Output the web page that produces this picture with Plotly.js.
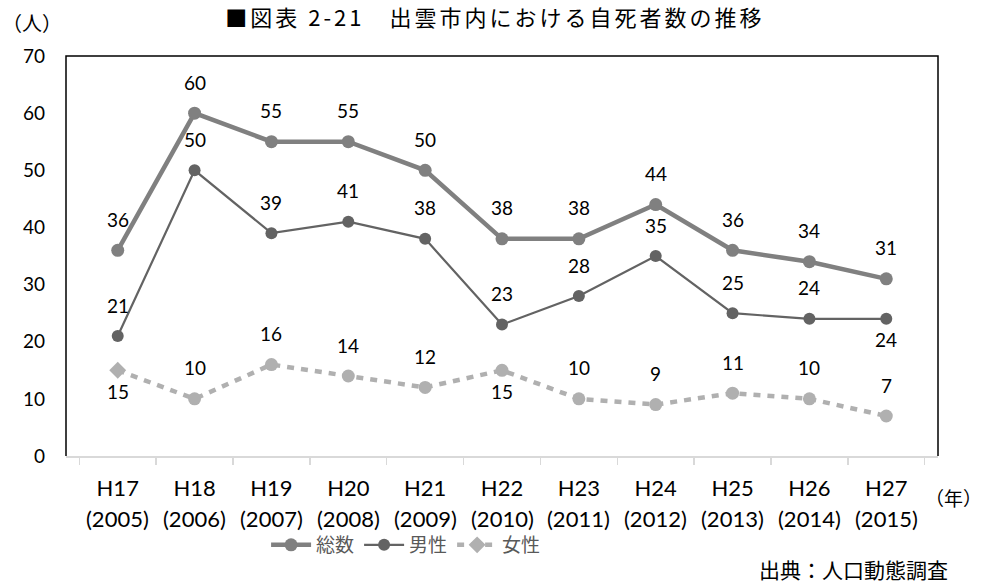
<!DOCTYPE html>
<html>
<head>
<meta charset="utf-8">
<script src="https://cdn.plot.ly/plotly-3.0.1.min.js"></script>
<style>html,body{margin:0;padding:0;background:#fff;}#chart{width:984px;height:583px;}
.gtitle{letter-spacing:3px;}</style>
</head>
<body>
<div id="chart"></div>
<script>
var categories = ["H17", "H18", "H19", "H20", "H21", "H22", "H23", "H24", "H25", "H26", "H27"];
var yearLabels = ["(2005)", "(2006)", "(2007)", "(2008)", "(2009)", "(2010)", "(2011)", "(2012)", "(2013)", "(2014)", "(2015)"];
var totalValues = [36, 60, 55, 55, 50, 38, 38, 44, 36, 34, 31];
var maleValues = [21, 50, 39, 41, 38, 23, 28, 35, 25, 24, 24];
var femaleValues = [15, 10, 16, 14, 12, 15, 10, 9, 11, 10, 7];

// label placement (style): 1 = above, -1 = below
var totalPos = [1,1,1,1,1,1,1,1,1,1,1];
var malePos = [1,1,1,1,1,1,1,1,1,1,-1];
var femalePos = [-1,1,1,1,1,-1,1,1,1,1,1];

var FONT = 'Lato, "Noto Sans", "Noto Sans CJK JP", sans-serif';
var JFONT = '"Noto Sans CJK JP", sans-serif';

var traces = [
  {name: '総数', x: categories, y: totalValues, type: 'scatter', mode: 'lines+markers',
   line: {color: '#808080', width: 4.5}, marker: {color: '#808080', size: 13}},
  {name: '男性', x: categories, y: maleValues, type: 'scatter', mode: 'lines+markers',
   line: {color: '#636363', width: 2.2}, marker: {color: '#636363', size: 12}},
  {name: '女性', x: categories, y: femaleValues, type: 'scatter', mode: 'lines+markers',
   line: {color: '#b0b0b0', width: 4.5, dash: '7px,7px'},
   marker: {color: '#b0b0b0', size: 13, symbol: femaleValues.map(function(v,i){return i===0?'diamond':'circle';})}}
];

var annotations = [];
function addLabels(vals, pos) {
  vals.forEach(function(v, i) {
    annotations.push({x: categories[i], y: v, xref: 'x', yref: 'y', text: String(v), showarrow: false,
      yshift: pos[i] > 0 ? 31 : -21, font: {family: FONT, size: 19, color: '#000'}});
  });
}
addLabels(totalValues, totalPos);
addLabels(maleValues, malePos);
addLabels(femaleValues, femalePos);
yearLabels.forEach(function(t, i) {
  annotations.push({x: categories[i], y: 0, xref: 'x', yref: 'paper', text: t, showarrow: false,
    yanchor: 'middle', yshift: -62, font: {family: FONT, size: 22, color: '#000'}});
});
annotations.push({xref: 'paper', yref: 'paper', x: -0.0757, y: 1.085, xanchor: 'left', yanchor: 'middle',
  text: '（人）', showarrow: false, font: {family: JFONT, size: 20, color: '#000'}});
annotations.push({xref: 'paper', yref: 'paper', x: 1.0527, y: -0.1025, xanchor: 'right', yanchor: 'middle',
  text: '（年）', showarrow: false, font: {family: JFONT, size: 19, color: '#000'}});
annotations.push({xref: 'paper', yref: 'paper', x: 0.7925, y: -0.283, xanchor: 'left', yanchor: 'middle',
  text: '出典：人口動態調査', showarrow: false, font: {family: JFONT, size: 21, color: '#000'}});

var layout = {
  width: 984, height: 583,
  margin: {l: 66, r: 46, t: 56, b: 127},
  paper_bgcolor: '#fff', plot_bgcolor: '#fff',
  title: {text: '■図表 2-21　出雲市内における自死者数の推移', x: 0.503, xanchor: 'center', y: 0.968, yanchor: 'middle',
    yref: 'container', font: {family: JFONT, size: 22, color: '#000'}},
  xaxis: {type: 'category', categoryarray: categories, showgrid: false, zeroline: false,
    showline: true, linecolor: '#d9d9d9', linewidth: 1.5, ticks: 'outside', tickson: 'boundaries',
    ticklen: 7, tickcolor: '#d9d9d9', tickwidth: 1.5, ticklabelstandoff: 12,
    tickfont: {family: FONT, size: 22, color: '#000'}},
  yaxis: {range: [0, 70], dtick: 10, showgrid: false, zeroline: false, showline: false,
    ticks: '', ticklabelstandoff: 20, tickfont: {family: FONT, size: 19, color: '#000'}},
  shapes: [{type: 'path', xref: 'paper', yref: 'paper', path: 'M0,0 L0,1 L1,1 L1,0',
    line: {color: '#000', width: 1.5}}],
  legend: {orientation: 'h', x: 0.39, xanchor: 'center', y: -0.2225, yanchor: 'middle',
    font: {family: JFONT, size: 19, color: '#595959'}, itemwidth: 40},
  annotations: annotations,
  showlegend: true
};

Plotly.newPlot('chart', traces, layout, {displayModeBar: false, staticPlot: true});
</script>
</body>
</html>
